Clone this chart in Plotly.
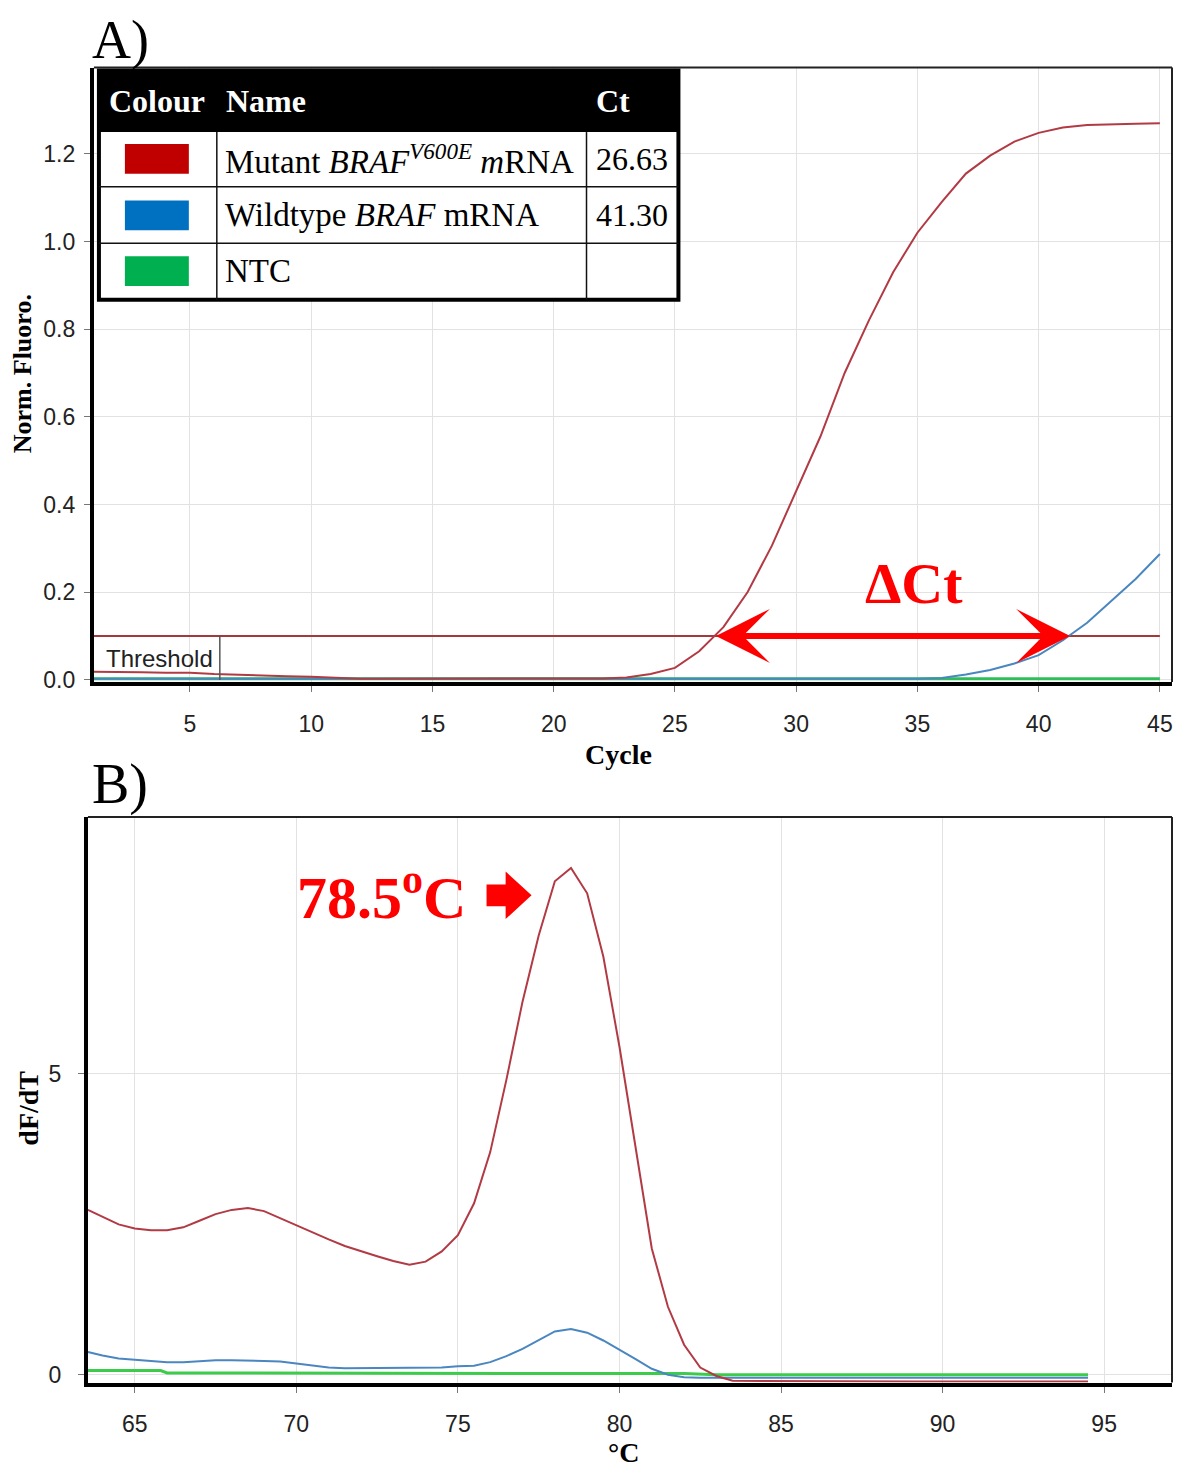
import plotly.graph_objects as go

W, H = 1181, 1484
OFF = 8  # browser body margin
FW, FH = W - OFF, H - 2 * OFF

# ---------------- Panel A data (amplification) ----------------
cycles = list(range(1, 46))
mutant_fluoro = [0.018, 0.018, 0.017, 0.016, 0.016, 0.013, 0.011, 0.009, 0.008, 0.007,
                 0.004, 0.002, 0.002, 0.002, 0.002, 0.002, 0.002, 0.002, 0.002, 0.002,
                 0.002, 0.003, 0.005, 0.013, 0.027, 0.065, 0.12, 0.20, 0.306, 0.43,
                 0.555, 0.70, 0.82, 0.93, 1.02, 1.09, 1.155, 1.196, 1.228, 1.248,
                 1.26, 1.266, 1.268, 1.269, 1.27]
wildtype_fluoro = [0.002] * 35 + [0.004, 0.012, 0.022, 0.037, 0.056, 0.09, 0.13, 0.18, 0.23, 0.287]
ntc_fluoro = [0.002] * 45
threshold = 0.1
ct_mutant, ct_wildtype = 26.63, 41.30
xticks_a = [5, 10, 15, 20, 25, 30, 35, 40, 45]
yticks_a = [0.0, 0.2, 0.4, 0.6, 0.8, 1.0, 1.2]

# ---------------- Panel B data (melt curve) ----------------
temp_red = [63.55, 64.0, 64.5, 65.0, 65.5, 66.0, 66.5, 67.0, 67.5, 68.0, 68.5, 69.0, 69.5,
            70.0, 70.5, 71.0, 71.5, 72.0, 72.5, 73.0, 73.5, 74.0, 74.5, 75.0, 75.5, 76.0,
            76.5, 77.0, 77.5, 78.0, 78.5, 79.0, 79.5, 80.0, 80.5, 81.0, 81.5, 82.0, 82.5,
            83.0, 83.5, 86.0, 89.0, 92.0, 94.5]
dfdt_red = [2.74, 2.62, 2.50, 2.43, 2.40, 2.40, 2.45, 2.56, 2.67, 2.74, 2.77, 2.72, 2.60,
            2.48, 2.36, 2.25, 2.14, 2.05, 1.97, 1.89, 1.83, 1.88, 2.05, 2.32, 2.85, 3.70,
            4.90, 6.20, 7.30, 8.20, 8.42, 8.00, 6.95, 5.45, 3.75, 2.10, 1.13, 0.50, 0.12,
            -0.02, -0.10, -0.11, -0.11, -0.11, -0.11]
temp_blue = [63.55, 64.0, 64.5, 65.0, 65.5, 66.0, 66.5, 67.0, 67.5, 68.0, 68.5, 69.0, 69.5,
             70.0, 70.5, 71.0, 71.5, 72.0, 73.0, 74.0, 74.5, 75.0, 75.5, 76.0, 76.5, 77.0,
             77.5, 78.0, 78.5, 79.0, 79.5, 80.0, 80.5, 81.0, 81.5, 82.0, 82.5, 86.0, 90.0, 94.5]
dfdt_blue = [0.38, 0.32, 0.27, 0.25, 0.24, 0.21, 0.21, 0.23, 0.24, 0.24, 0.24, 0.23, 0.22,
             0.19, 0.16, 0.12, 0.11, 0.11, 0.11, 0.11, 0.12, 0.14, 0.15, 0.21, 0.31, 0.43,
             0.57, 0.72, 0.76, 0.70, 0.57, 0.42, 0.26, 0.10, 0.0, -0.04, -0.05, -0.05, -0.05, -0.05]
temp_green = [63.55, 65.8, 66.0, 70.0, 75.0, 80.0, 82.0, 83.0, 88.0, 94.5]
dfdt_green = [0.07, 0.07, 0.03, 0.03, 0.03, 0.03, 0.02, 0.0, 0.0, 0.0]
xticks_b = [65, 70, 75, 80, 85, 90, 95]
yticks_b = [0, 5]

RED = "#B23A44"
BLUE = "#4A86C0"
GREEN = "#2DBE5A"
RIGHT = 1173


def px(x):
    return (x - OFF) / FW


def py(y):
    return 1 - (y - OFF) / FH


fig = go.Figure()

# Panel A traces
fig.add_trace(go.Scatter(x=[cycles[0], cycles[-1]], y=[threshold, threshold], mode="lines",
                         line=dict(color="#A3393B", width=2), xaxis="x", yaxis="y", showlegend=False))
fig.add_trace(go.Scatter(x=cycles, y=ntc_fluoro, mode="lines", line=dict(color=GREEN, width=3),
                         xaxis="x", yaxis="y", showlegend=False))
fig.add_trace(go.Scatter(x=cycles, y=wildtype_fluoro, mode="lines", line=dict(color=BLUE, width=2),
                         xaxis="x", yaxis="y", showlegend=False))
fig.add_trace(go.Scatter(x=cycles, y=mutant_fluoro, mode="lines", line=dict(color=RED, width=2),
                         xaxis="x", yaxis="y", showlegend=False))

# Panel B traces
fig.add_trace(go.Scatter(x=temp_green, y=dfdt_green, mode="lines", line=dict(color="#3CCB4A", width=3),
                         xaxis="x2", yaxis="y2", showlegend=False))
fig.add_trace(go.Scatter(x=temp_blue, y=dfdt_blue, mode="lines", line=dict(color=BLUE, width=2),
                         xaxis="x2", yaxis="y2", showlegend=False))
fig.add_trace(go.Scatter(x=temp_red, y=dfdt_red, mode="lines", line=dict(color=RED, width=2),
                         xaxis="x2", yaxis="y2", showlegend=False))

tickfont = dict(family="Liberation Sans, Arial, sans-serif", size=23, color="#222")
common = dict(showgrid=True, gridcolor="#E2E2E2", gridwidth=1, zeroline=False,
              showline=True, linecolor="black", linewidth=4, ticks="outside",
              ticklen=6, tickcolor="#777", tickfont=tickfont, ticklabeloverflow="allow")

fig.update_layout(
    width=FW, height=FH,
    margin=dict(l=0, r=0, t=0, b=0),
    paper_bgcolor="white", plot_bgcolor="white",
    xaxis=dict(domain=[px(94), px(RIGHT)], range=[1.04, 45.5], tickvals=xticks_a,
               anchor="y", ticklabelstandoff=12, **common),
    yaxis=dict(domain=[py(687), py(68)], range=[-0.005, 1.397], tickvals=yticks_a,
               tickformat=".1f", anchor="x", ticklabelstandoff=4, **common),
    xaxis2=dict(domain=[px(88), px(RIGHT)], range=[63.55, 97.1], tickvals=xticks_b,
                anchor="y2", ticklabelstandoff=12, **common),
    yaxis2=dict(domain=[py(1393), py(823)], range=[-0.13, 9.27], tickvals=yticks_b,
                anchor="x2", ticklabelstandoff=12, **common),
)

shapes = []
# thin top/right borders
for (x0, y0, x1, y1) in [(94, 68, RIGHT, 687), (88, 823, RIGHT, 1393)]:
    shapes.append(dict(type="line", xref="paper", yref="paper", x0=px(x0), x1=px(x1), y0=py(y0), y1=py(y0),
                       line=dict(color="#222", width=2)))
    shapes.append(dict(type="line", xref="paper", yref="paper", x0=px(x1), x1=px(x1), y0=py(y0), y1=py(y1),
                       line=dict(color="#222", width=2)))

# Threshold label box right edge
shapes.append(dict(type="line", xref="paper", yref="paper", x0=px(220), x1=px(220), y0=py(640), y1=py(685),
                   line=dict(color="#555", width=1.5)))

# Legend table
T_L, T_R, T_T, T_B = 99, 679, 71, 302
shapes.append(dict(type="rect", xref="paper", yref="paper", x0=px(T_L), x1=px(T_R), y0=py(T_B), y1=py(T_T),
                   fillcolor="white", line=dict(color="black", width=4), layer="above"))
shapes.append(dict(type="rect", xref="paper", yref="paper", x0=px(T_L), x1=px(T_R), y0=py(133), y1=py(T_T),
                   fillcolor="black", line=dict(color="black", width=0), layer="above"))
for yy in [188, 245]:
    shapes.append(dict(type="line", xref="paper", yref="paper", x0=px(T_L), x1=px(T_R), y0=py(yy), y1=py(yy),
                       line=dict(color="#111", width=1.5), layer="above"))
for xx in [217, 587]:
    shapes.append(dict(type="line", xref="paper", yref="paper", x0=px(xx), x1=px(xx), y0=py(133), y1=py(T_B),
                       line=dict(color="#111", width=1.5), layer="above"))
swatch_colors = ["#C00000", "#0070C0", "#00B050"]
row_centers = [160, 217, 273]
for c, yc in zip(swatch_colors, row_centers):
    shapes.append(dict(type="rect", xref="paper", yref="paper", x0=px(125), x1=px(189),
                       y0=py(yc + 15), y1=py(yc - 15), fillcolor=c, line=dict(width=0), layer="above"))


# Block arrow next to 78.5°C (panel B domain coords)
def bx(p):
    return (p - 88) / (RIGHT - 88)


def by(p):
    return (1393 - p) / 570


arrow_pts = [(487, 891), (506, 891), (506, 878), (532, 902), (506, 926), (506, 913), (487, 913)]
path = "M " + " L ".join(f"{bx(a):.4f},{by(b):.4f}" for a, b in arrow_pts) + " Z"
shapes.append(dict(type="path", xref="x2 domain", yref="y2 domain", path=path,
                   fillcolor="#FF0000", line=dict(width=0)))

fig.update_layout(shapes=shapes)

serif = "Liberation Serif, Times New Roman, serif"
ann = []


def text(x, y, s, size, color="black", bold=False, angle=0, xanchor="center", family=serif):
    if bold:
        s = "<b>" + s + "</b>"
    ann.append(dict(x=px(x), y=py(y), xref="paper", yref="paper", text=s, showarrow=False,
                    font=dict(family=family, size=size, color=color), textangle=angle,
                    xanchor=xanchor, yanchor="middle"))


text(121, 40, "A)", 54)
text(120, 790, "B)", 56)
text(22, 376, "Norm. Fluoro.", 26, bold=True, angle=-90)
text(619, 760, "Cycle", 28, bold=True)
text(29, 1116, "dF/dT", 28, bold=True, angle=-90)
text(624, 1463, "°C", 28, bold=True)
text(160, 663, "Threshold", 24, color="#222", family="Liberation Sans, Arial, sans-serif")

# table text
text(107, 102, "Colour", 32, color="white", bold=True, xanchor="left")
text(224, 102, "Name", 32, color="white", bold=True, xanchor="left")
text(595, 102, "Ct", 32, color="white", bold=True, xanchor="left")
names = ["Mutant <i>BRAF</i><sup><i>V600E</i></sup> <i>m</i>RNA", "Wildtype <i>BRAF</i> mRNA", "NTC"]
cts = [f"{ct_mutant:.2f}", f"{ct_wildtype:.2f}", ""]
for nm, ct, yc in zip(names, cts, row_centers):
    text(223, yc, nm, 33, xanchor="left")
    if ct:
        text(594, yc, ct, 32, xanchor="left")

# Delta Ct annotation
text(915, 588, "ΔCt", 58, color="#FF0000", bold=True)
ann.append(dict(x=ct_wildtype, y=threshold, ax=ct_mutant, ay=threshold, xref="x", yref="y",
                axref="x", ayref="y", text="", showarrow=True, arrowhead=3, startarrowhead=3,
                arrowside="end+start", arrowsize=1.5, startarrowsize=1.5, arrowwidth=6,
                arrowcolor="#FF0000", standoff=0, startstandoff=0))

# Tm annotation
text(382, 900, "78.5<sup>o</sup>C", 60, color="#FF0000", bold=True)

fig.update_layout(annotations=ann)

fig.write_html("out.html")
